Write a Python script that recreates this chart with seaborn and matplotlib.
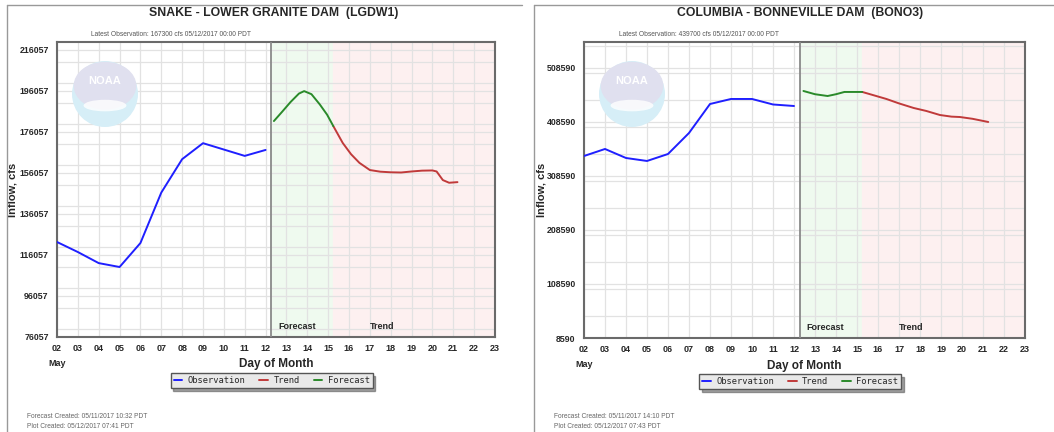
import numpy as np
import pandas as pd
import matplotlib
matplotlib.use("Agg")
import matplotlib.pyplot as plt
from matplotlib.patches import Ellipse
from matplotlib.lines import Line2D
from matplotlib.ticker import MultipleLocator
import seaborn as sns

# ---------------- data ----------------
obs_days = [2, 3, 4, 5, 6, 7, 8, 9, 10, 11, 12]

# Snake - Lower Granite Dam
lgdw_obs = [122400, 117500, 112100, 110200, 121900, 146500, 162800, 170600, 167500, 164400, 167300]
lgdw_fc_days = [12.4, 12.8, 13.2, 13.6, 13.85, 14.2, 14.6, 14.95, 15.25]
lgdw_fc = [181400, 186000, 190700, 194800, 196000, 194500, 189500, 184500, 178900]
lgdw_tr_days = [15.25, 15.7, 16.1, 16.5, 17.0, 17.5, 18.0, 18.5, 19.0, 19.5, 20.0, 20.2, 20.5, 20.8, 21.2]
lgdw_tr = [178900, 170700, 165200, 161000, 157500, 156700, 156400, 156300, 156800, 157200, 157300, 156800, 152600, 151300, 151600]
lgdw_yticks = [76057, 96057, 116057, 136057, 156057, 176057, 196057, 216057]

# Columbia - Bonneville Dam
bono_obs = [345600, 358600, 341900, 336400, 349300, 388200, 441900, 451200, 451200, 441000, 438200]
bono_fc_days = [12.45, 13.0, 13.6, 14.0, 14.4, 15.25]
bono_fc = [466000, 460000, 456700, 460000, 464200, 464200]
bono_tr_days = [15.25, 15.8, 16.4, 17.0, 17.7, 18.3, 18.95, 19.5, 19.9, 20.5, 21.25]
bono_tr = [464200, 458000, 451200, 443000, 434500, 429000, 421500, 418500, 417800, 414500, 408600]
bono_yticks = [8590, 108590, 208590, 308590, 408590, 508590]

day_labels = ["%02d" % d for d in range(2, 24)]

COLORS = {"Observation": "#1f1fff", "Trend": "#c03a3a", "Forecast": "#2a8a2a"}

sns.set_style("white")
plt.rcParams["font.family"] = ["Liberation Sans", "DejaVu Sans"]

W, H = 1054, 432
fig = plt.figure(figsize=(W / 100, H / 100), dpi=100)

# panel frame lines (top + left)
fig.add_artist(Line2D([7 / W, 522 / W], [1 - 5 / H, 1 - 5 / H], color="#999999", lw=1))
fig.add_artist(Line2D([7 / W, 7 / W], [0, 1 - 5 / H], color="#999999", lw=1))
fig.add_artist(Line2D([534 / W, 1], [1 - 5 / H, 1 - 5 / H], color="#999999", lw=1))
fig.add_artist(Line2D([534 / W, 534 / W], [0, 1 - 5 / H], color="#999999", lw=1))


def draw_panel(rect_px, title, latest, fcreated, pcreated, obs, fc_d, fc, tr_d, tr,
               yticks, ylim, ystep, now, fc_end, title_x, ylab_x):
    x0, y_top, x1, y_bot = rect_px
    wpx, hpx = x1 - x0, y_bot - y_top
    ax = fig.add_axes([x0 / W, 1 - y_bot / H, wpx / W, hpx / H])
    ax.set_xlim(2, 23)
    ax.set_ylim(*ylim)

    # forecast / trend shading
    ax.axvspan(now, fc_end, color="#effaef", zorder=0)
    ax.axvspan(fc_end, 23, color="#fdf0f0", zorder=0)
    ax.axvline(now, color="#8a8a8a", lw=1.3, zorder=3)

    # grid
    ax.set_xticks(range(2, 24))
    ax.set_xticklabels(day_labels)
    ax.set_yticks(yticks)
    ax.set_yticklabels([str(v) for v in yticks])
    ax.yaxis.set_minor_locator(MultipleLocator(ystep / 2))
    ax.grid(True, which="both", color="#e2e2e2", lw=0.9, zorder=1)
    ax.set_axisbelow(True)

    # NOAA logo (faded), ~48 px right of the axes' left edge
    cxf = 48 / wpx
    cyf = (y_bot - 94) / hpx
    rx, ry = 33 / wpx, 33 / hpx
    ax.add_patch(Ellipse((cxf, cyf), 2 * rx, 2 * ry, transform=ax.transAxes,
                         facecolor="#d6eef7", edgecolor="none", zorder=1))
    ax.add_patch(Ellipse((cxf, cyf + 0.25 * ry), 1.9 * rx, 1.45 * ry, transform=ax.transAxes,
                         facecolor="#e0e0ef", edgecolor="none", zorder=1))
    ax.add_patch(Ellipse((cxf, cyf - 0.35 * ry), 1.3 * rx, 0.35 * ry, transform=ax.transAxes,
                         facecolor="white", edgecolor="none", alpha=0.8, zorder=1))
    ax.text(cxf, cyf + 0.4 * ry, "NOAA", transform=ax.transAxes, ha="center", va="center",
            color="white", fontsize=8, fontweight="bold", zorder=2)

    df = pd.concat([
        pd.DataFrame({"day": obs_days, "flow": obs, "series": "Observation"}),
        pd.DataFrame({"day": tr_d, "flow": tr, "series": "Trend"}),
        pd.DataFrame({"day": fc_d, "flow": fc, "series": "Forecast"}),
    ])
    sns.lineplot(data=df, x="day", y="flow", hue="series", palette=COLORS,
                 estimator=None, sort=False, lw=1.4, legend=False, ax=ax, zorder=4)

    for s in ax.spines.values():
        s.set_color("#6a6a6a")
        s.set_linewidth(1.5)

    ax.tick_params(axis="x", direction="in", length=4, width=1, color="#555555", pad=5,
                   labelsize=6.5)
    ax.tick_params(axis="y", which="major", direction="out", length=4, width=1,
                   color="#555555", pad=2, labelsize=6.3)
    ax.tick_params(axis="y", which="minor", direction="in", length=3, width=1, color="#555555")
    for lab in ax.get_xticklabels() + ax.get_yticklabels():
        lab.set_fontweight("bold")

    ax.set_xlabel("Day of Month", fontsize=8.5, fontweight="bold", labelpad=4)
    ax.set_ylabel("Inflow, cfs", fontsize=8, fontweight="bold")
    ax.yaxis.set_label_coords(ylab_x, 0.5)
    ax.text(0, -0.075, "May", transform=ax.transAxes, ha="center", va="top",
            fontsize=6.5, fontweight="bold")

    ax.text((13.5 - 2) / 21, 0.035, "Forecast", transform=ax.transAxes, ha="center",
            va="center", fontsize=6.5, fontweight="bold", zorder=5)
    ax.text((17.6 - 2) / 21, 0.035, "Trend", transform=ax.transAxes, ha="center",
            va="center", fontsize=6.5, fontweight="bold", zorder=5)

    ax.text(title_x, 1 + 29 / hpx, title, transform=ax.transAxes, ha="center",
            va="center", fontsize=8.8, fontweight="bold")
    ax.text(0.26, 1 + 8 / hpx, latest, transform=ax.transAxes, ha="center", va="center",
            fontsize=4.8, color="#555555")

    handles = [Line2D([], [], color=COLORS[k], lw=1.4) for k in ["Observation", "Trend", "Forecast"]]
    leg = ax.legend(handles, ["Observation", "Trend", "Forecast"], ncol=3,
                    loc="center", bbox_to_anchor=(0.49, -0.147), frameon=True,
                    fancybox=False, shadow=True, handlelength=1.0, columnspacing=1.6,
                    handletextpad=0.6, borderpad=0.35,
                    prop={"family": "DejaVu Sans Mono", "size": 6.3})
    leg.get_frame().set_facecolor("#e9e9e9")
    leg.get_frame().set_edgecolor("#555555")
    leg.get_frame().set_linewidth(1.0)

    fig.text((x0 - 30) / W, 1 - 417 / H, fcreated, fontsize=4.8, color="#666666", va="center")
    fig.text((x0 - 30) / W, 1 - 426 / H, pcreated, fontsize=4.8, color="#666666", va="center")
    return ax


draw_panel((57, 42, 495, 337),
           "SNAKE - LOWER GRANITE DAM  (LGDW1)",
           "Latest Observation: 167300 cfs 05/12/2017 00:00 PDT",
           "Forecast Created: 05/11/2017 10:32 PDT",
           "Plot Created: 05/12/2017 07:41 PDT",
           lgdw_obs, lgdw_fc_days, lgdw_fc, lgdw_tr_days, lgdw_tr,
           lgdw_yticks, (76057, 219957), 20000, 12.27, 15.25, 0.495, -0.091)

draw_panel((584, 42, 1025, 338),
           "COLUMBIA - BONNEVILLE DAM  (BONO3)",
           "Latest Observation: 439700 cfs 05/12/2017 00:00 PDT",
           "Forecast Created: 05/11/2017 14:10 PDT",
           "Plot Created: 05/12/2017 07:43 PDT",
           bono_obs, bono_fc_days, bono_fc, bono_tr_days, bono_tr,
           bono_yticks, (8590, 556700), 100000, 12.3, 15.25, 0.49, -0.084)

fig.savefig("out.png", dpi=100)
